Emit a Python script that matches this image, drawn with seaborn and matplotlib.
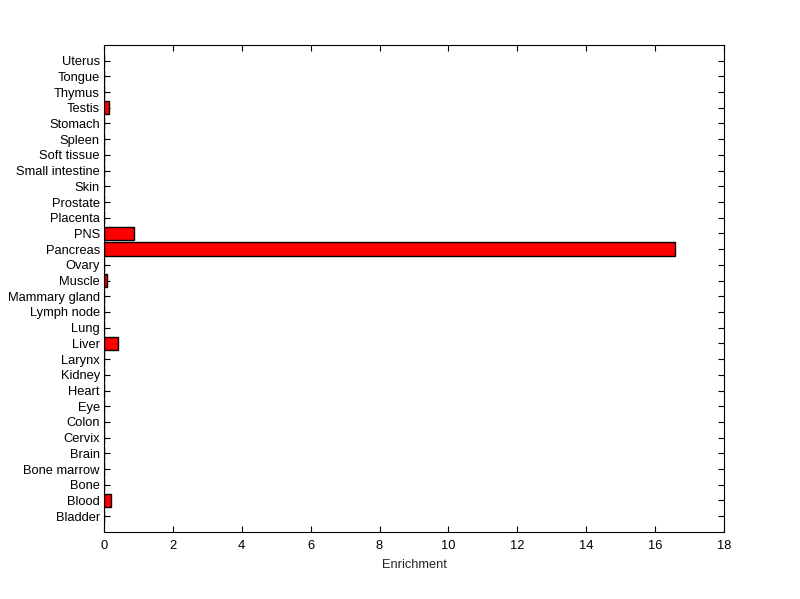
import matplotlib
matplotlib.use("Agg")
import matplotlib.pyplot as plt
import seaborn as sns
import pandas as pd

tissues = ["Bladder", "Blood", "Bone", "Bone marrow", "Brain", "Cervix", "Colon", "Eye",
           "Heart", "Kidney", "Larynx", "Liver", "Lung", "Lymph node", "Mammary gland",
           "Muscle", "Ovary", "Pancreas", "PNS", "Placenta", "Prostate", "Skin",
           "Small intestine", "Soft tissue", "Spleen", "Stomach", "Testis", "Thymus",
           "Tongue", "Uterus"]
enrichment = [0, 0.2, 0, 0, 0, 0, 0, 0,
              0, 0, 0, 0.40, 0, 0, 0,
              0.08, 0, 16.57, 0.87, 0, 0, 0,
              0, 0, 0, 0, 0.15, 0,
              0, 0]
xticks = [0, 2, 4, 6, 8, 10, 12, 14, 16, 18]

df = pd.DataFrame({"Tissue": tissues, "Enrichment": enrichment})
order = tissues[::-1]

sns.set_style("white")
plt.rcParams["font.family"] = ["Liberation Sans", "DejaVu Sans"]

fig = plt.figure(figsize=(8, 5.99), dpi=100)
ax = fig.add_axes([0.13, 0.112, 0.775, 0.813])
sns.barplot(data=df, x="Enrichment", y="Tissue", order=order, orient="h",
            color="#ff0000", edgecolor="black", linewidth=1, width=0.85,
            saturation=1, ax=ax)
n = len(tissues)
ax.set_ylim(n, -1)
ax.set_xlim(0, 18)
ax.set_xticks(xticks)
ax.set_xticklabels([str(t) for t in xticks])
ax.set_ylabel("")
ax.set_xlabel("Enrichment", fontsize=9.3, labelpad=5)
ax.tick_params(direction="in", length=4, width=0.8, top=True, right=True,
               bottom=True, left=True,
               labelsize=9.3, colors="black")
ax.tick_params(axis="y", pad=3)
ax.tick_params(axis="x", pad=6)
for s in ax.spines.values():
    s.set_visible(True)
    s.set_color("black")
    s.set_linewidth(0.8)
fig.savefig("out.png", dpi=100, facecolor="white")
